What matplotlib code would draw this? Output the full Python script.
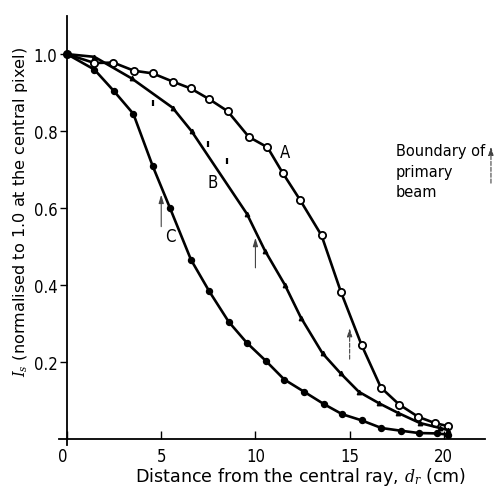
import numpy as np
import matplotlib
matplotlib.use('Agg')
import matplotlib.pyplot as plt

plt.rcParams['font.family'] = ['DejaVu Sans']
plt.rcParams['font.stretch'] = 'condensed'
plt.rcParams['mathtext.fontset'] = 'dejavuserif'

# Curve A (open circles)
a_x = [0.0, 1.45, 2.46, 3.55, 4.55, 5.65, 6.56, 7.55, 8.52, 9.65, 10.64, 11.44,
       12.36, 13.51, 14.54, 15.63, 16.66, 17.63, 18.64, 19.52, 20.2]
a_y = [1.0, 0.977, 0.978, 0.957, 0.950, 0.928, 0.911, 0.883, 0.852, 0.785, 0.758,
       0.692, 0.622, 0.529, 0.382, 0.245, 0.134, 0.090, 0.058, 0.042, 0.034]

# Curve B (small triangles)
b_x = [0.0, 1.45, 3.43, 5.6, 6.61, 9.55, 10.5, 11.56, 12.41, 13.56, 14.52,
       15.49, 16.57, 17.58, 18.73, 19.8, 20.2]
b_y = [1.0, 0.993, 0.937, 0.861, 0.800, 0.585, 0.490, 0.401, 0.316, 0.223,
       0.171, 0.123, 0.093, 0.068, 0.042, 0.029, 0.024]
# stray B readings drawn as short strokes
b2_x = [4.58, 7.5, 8.5]
b2_y = [0.874, 0.767, 0.722]

# Curve C (filled circles)
c_x = [0.0, 1.45, 2.49, 3.52, 4.55, 5.46, 6.58, 7.55, 8.58, 9.53, 10.54, 11.53,
       12.59, 13.64, 14.6, 15.63, 16.69, 17.72, 18.67, 19.61, 20.2]
c_y = [1.0, 0.960, 0.904, 0.845, 0.709, 0.601, 0.466, 0.384, 0.305, 0.251, 0.204,
       0.155, 0.123, 0.091, 0.065, 0.049, 0.029, 0.022, 0.016, 0.015, 0.012]

# boundary of primary beam: (x, y_tail, y_head)
beam_x = [5, 10, 15]
beam_tail = [0.552, 0.445, 0.208]
beam_head = [0.635, 0.523, 0.289]

fig = plt.figure(figsize=(4.94, 4.89), dpi=100)
ax = fig.add_axes([0.1204, 0.088, 0.862, 0.878])

lw = 1.9
ax.plot(a_x, a_y, color='black', lw=lw, marker='o', ms=5.2, mfc='white',
        mec='black', mew=1.3, zorder=3)
ax.plot(b_x, b_y, color='black', lw=lw, marker='^', ms=3.2, mfc='black',
        mec='black', zorder=3)
ax.plot(b2_x, b2_y, ls='none', marker='|', ms=5, mew=1.6, color='black')
ax.plot(c_x, c_y, color='black', lw=lw, marker='o', ms=4.3, mfc='black',
        mec='black', zorder=3)

arrow_style = '-|>,head_length=0.5,head_width=0.15'
for bx, y0, y1, ls in zip(beam_x, beam_tail, beam_head, ['-', '-', '--']):
    ax.annotate('', xy=(bx, y1), xytext=(bx, y0),
                arrowprops=dict(arrowstyle=arrow_style, color='#444444',
                                lw=0.8, ls=ls, shrinkA=0, shrinkB=0))

# key arrow beside the note
ax.annotate('', xy=(22.5, 0.76), xytext=(22.5, 0.665),
            arrowprops=dict(arrowstyle=arrow_style, color='#444444', lw=0.8,
                            ls='--', shrinkA=0, shrinkB=0),
            annotation_clip=False)
ax.text(17.45, 0.768, 'Boundary of\nprimary\nbeam', fontsize=10.5,
        fontstretch='normal', va='top', ha='left', linespacing=1.42)

ax.text(11.55, 0.745, 'A', fontsize=12, ha='center', va='center')
ax.text(7.75, 0.667, 'B', fontsize=12, ha='center', va='center')
ax.text(5.5, 0.528, 'C', fontsize=12, ha='center', va='center')

ax.set_xlim(-0.4, 22.2)
ax.set_ylim(-0.015, 1.1)
ax.spines['left'].set_position(('data', 0))
ax.spines['bottom'].set_position(('data', 0))
ax.spines['top'].set_visible(False)
ax.spines['right'].set_visible(False)
for s in ['left', 'bottom']:
    ax.spines[s].set_linewidth(1.3)

ax.set_xticks([0, 5, 10, 15, 20])
ax.set_yticks([0.2, 0.4, 0.6, 0.8, 1.0])
ax.set_yticklabels(['0.2', '0.4', '0.6', '0.8', '1.0'])
ax.tick_params(axis='x', direction='in', length=6, width=1, labelsize=12, pad=5.5)
ax.tick_params(axis='y', direction='out', length=5, width=1, labelsize=12, pad=2)
ax.get_xticklabels()[0].set_horizontalalignment('right')

ax.set_xlabel('Distance from the central ray, $d_r$ (cm)', fontsize=12.6,
              fontstretch='normal')
ax.xaxis.set_label_coords(0.567, -0.047)
ax.set_ylabel('$I_s$ (normalised to 1.0 at the central pixel)', fontsize=11.6,
              fontstretch='normal')
ax.yaxis.set_label_coords(-0.069, 0.545)

fig.savefig('out.png', dpi=100)
